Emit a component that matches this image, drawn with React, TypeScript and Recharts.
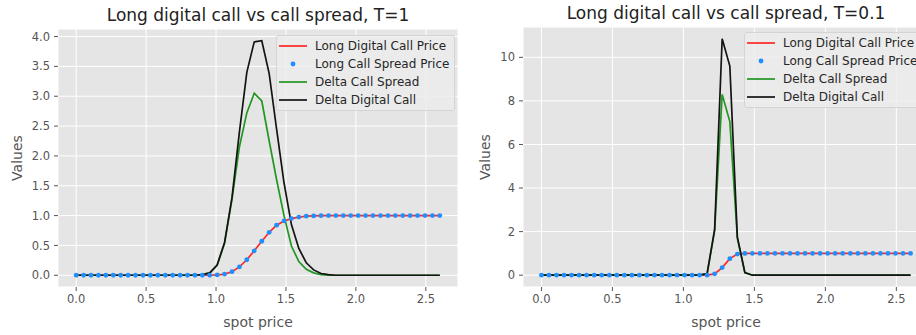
import { LineChart, Line, XAxis, YAxis, CartesianGrid, Legend, Label } from "recharts";

// spot grid shared by both panels
const spot = [
  0.0, 0.053, 0.106, 0.159, 0.212, 0.265, 0.318, 0.371, 0.424, 0.478,
  0.531, 0.584, 0.637, 0.69, 0.743, 0.796, 0.849, 0.902, 0.955, 1.008,
  1.061, 1.114, 1.167, 1.22, 1.273, 1.327, 1.38, 1.433, 1.486, 1.539,
  1.592, 1.645, 1.698, 1.751, 1.804, 1.857, 1.91, 1.963, 2.016, 2.069,
  2.122, 2.176, 2.229, 2.282, 2.335, 2.388, 2.441, 2.494, 2.547, 2.6,
];

// T = 1
const digitalPriceT1 = [
  0, 0, 0, 0, 0, 0, 0, 0, 0, 0,
  0, 0, 0, 0, 0, 0, 0, 0, 0, 0.005,
  0.02, 0.06, 0.14, 0.26, 0.41, 0.57, 0.72, 0.84, 0.91, 0.95,
  0.975, 0.99, 0.995, 0.998, 1, 1, 1, 1, 1, 1,
  1, 1, 1, 1, 1, 1, 1, 1, 1, 1,
];
const spreadPriceT1 = [
  0, 0, 0, 0, 0, 0, 0, 0, 0, 0,
  0, 0, 0, 0, 0, 0, 0, 0, 0, 0.005,
  0.02, 0.06, 0.14, 0.26, 0.41, 0.57, 0.72, 0.84, 0.91, 0.95,
  0.975, 0.99, 0.995, 0.998, 1, 1, 1, 1, 1, 1,
  1, 1, 1, 1, 1, 1, 1, 1, 1, 1,
];
const deltaSpreadT1 = [
  0, 0, 0, 0, 0, 0, 0, 0, 0, 0,
  0, 0, 0, 0, 0, 0, 0, 0.01, 0.04, 0.17,
  0.54, 1.27, 2.15, 2.72, 3.05, 2.92, 2.25, 1.6, 1.0, 0.49,
  0.23, 0.1, 0.04, 0.01, 0, 0, 0, 0, 0, 0,
  0, 0, 0, 0, 0, 0, 0, 0, 0, 0,
];
const deltaDigitalT1 = [
  0, 0, 0, 0, 0, 0, 0, 0, 0, 0,
  0, 0, 0, 0, 0, 0, 0, 0.01, 0.04, 0.17,
  0.55, 1.3, 2.4, 3.4, 3.91, 3.93, 3.38, 2.45, 1.55, 0.85,
  0.45, 0.21, 0.09, 0.03, 0.01, 0, 0, 0, 0, 0,
  0, 0, 0, 0, 0, 0, 0, 0, 0, 0,
];

// T = 0.1
const digitalPriceT01 = [
  0, 0, 0, 0, 0, 0, 0, 0, 0, 0,
  0, 0, 0, 0, 0, 0, 0, 0, 0, 0,
  0, 0, 0, 0.06, 0.35, 0.76, 0.97, 0.998, 1, 1,
  1, 1, 1, 1, 1, 1, 1, 1, 1, 1,
  1, 1, 1, 1, 1, 1, 1, 1, 1, 1,
];
const spreadPriceT01 = [
  0, 0, 0, 0, 0, 0, 0, 0, 0, 0,
  0, 0, 0, 0, 0, 0, 0, 0, 0, 0,
  0, 0, 0, 0.06, 0.35, 0.76, 0.97, 0.998, 1, 1,
  1, 1, 1, 1, 1, 1, 1, 1, 1, 1,
  1, 1, 1, 1, 1, 1, 1, 1, 1, 1,
];
const deltaSpreadT01 = [
  0, 0, 0, 0, 0, 0, 0, 0, 0, 0,
  0, 0, 0, 0, 0, 0, 0, 0, 0, 0,
  0, 0, 0.07, 2.05, 8.3, 7.05, 1.7, 0.12, 0, 0,
  0, 0, 0, 0, 0, 0, 0, 0, 0, 0,
  0, 0, 0, 0, 0, 0, 0, 0, 0, 0,
];
const deltaDigitalT01 = [
  0, 0, 0, 0, 0, 0, 0, 0, 0, 0,
  0, 0, 0, 0, 0, 0, 0, 0, 0, 0,
  0, 0, 0.07, 2.1, 10.85, 9.6, 1.75, 0.12, 0, 0,
  0, 0, 0, 0, 0, 0, 0, 0, 0, 0,
  0, 0, 0, 0, 0, 0, 0, 0, 0, 0,
];

const xTicks = [0, 0.5, 1, 1.5, 2, 2.5];
const yTicksT1 = [0, 0.5, 1, 1.5, 2, 2.5, 3, 3.5, 4];
const yTicksT01 = [0, 2, 4, 6, 8, 10];

const FONT = "'DejaVu Sans', sans-serif";
const LABEL_GRAY = "#555555";

const series = [
  { key: "digitalPrice", name: "Long Digital Call Price", color: "#ff2626", dots: false },
  { key: "spreadPrice", name: "Long Call Spread Price", color: "#1e8fff", dots: true },
  { key: "deltaSpread", name: "Delta Call Spread", color: "#229622", dots: false },
  { key: "deltaDigital", name: "Delta Digital Call", color: "#141414", dots: false },
];

const buildRows = (
  digital: number[],
  spread: number[],
  dSpread: number[],
  dDigital: number[]
) =>
  spot.map((s, i) => ({
    spot: s,
    digitalPrice: digital[i],
    spreadPrice: spread[i],
    deltaSpread: dSpread[i],
    deltaDigital: dDigital[i],
  }));

const LegendBox = () => (
  <div
    style={{
      background: "rgba(236,236,236,0.85)",
      border: "1px solid #d4d4d4",
      borderRadius: 3,
      padding: "1px 0 1px 2px",
      fontFamily: FONT,
      fontSize: 12,
      color: "#262626",
      boxSizing: "border-box",
      whiteSpace: "nowrap",
    }}
  >
    {series.map((s) => (
      <div key={s.key} style={{ display: "flex", alignItems: "center", height: 18 }}>
        <svg width={28} height={18} style={{ marginRight: 8, flexShrink: 0 }}>
          {s.dots ? (
            <circle cx={14} cy={9} r={2.4} fill={s.color} />
          ) : (
            <line x1={0} x2={28} y1={9} y2={9} stroke={s.color} strokeWidth={1.7} />
          )}
        </svg>
        <span>{s.name}</span>
      </div>
    ))}
  </div>
);

interface PanelProps {
  title: string;
  rows: ReturnType<typeof buildRows>;
  left: number;
  top: number;
  yAxisWidth: number;
  rightMargin: number;
  yDomain: [number, number];
  yTicks: number[];
  yFormat: (v: number) => string;
  yLabelX: number;
  titleTop: number;
  legendLeft: number;
  legendTop: number;
}

const Panel = (p: PanelProps) => {
  const width = 470;
  const height = 335;
  const plotWidth = width - p.yAxisWidth - p.rightMargin;
  return (
    <div style={{ position: "absolute", left: p.left, top: 0, width, height }}>
      <div
        style={{
          position: "absolute",
          left: p.yAxisWidth,
          top: p.titleTop,
          width: plotWidth,
          textAlign: "center",
          fontFamily: FONT,
          fontSize: 17,
          lineHeight: "20px",
          color: "#222",
          whiteSpace: "nowrap",
        }}
      >
        {p.title}
      </div>
      <LineChart
        width={width}
        height={height}
        data={p.rows}
        margin={{ top: p.top, right: p.rightMargin, left: 0, bottom: 0 }}
      >
        <CartesianGrid fill="#E5E5E5" fillOpacity={1} stroke="#ffffff" strokeWidth={1} />
        <XAxis
          dataKey="spot"
          type="number"
          domain={[-0.13, 2.73]}
          ticks={xTicks}
          allowDataOverflow
          height={48}
          axisLine={false}
          tickLine={{ stroke: LABEL_GRAY }}
          tickSize={4}
          tickMargin={4}
          tick={{ fill: LABEL_GRAY, fontSize: 11.5, fontFamily: FONT }}
          tickFormatter={(v: number) => v.toFixed(1)}
        >
          <Label
            content={({ viewBox }: any) => (
              <text
                x={viewBox.x + viewBox.width / 2}
                y={viewBox.y + 35}
                textAnchor="middle"
                dominantBaseline="central"
                fill={LABEL_GRAY}
                fontSize={14}
                fontFamily={FONT}
              >
                spot price
              </text>
            )}
          />
        </XAxis>
        <YAxis
          type="number"
          domain={p.yDomain}
          ticks={p.yTicks}
          allowDataOverflow
          width={p.yAxisWidth}
          axisLine={false}
          tickLine={{ stroke: LABEL_GRAY }}
          tickSize={4}
          tickMargin={4}
          tick={{ fill: LABEL_GRAY, fontSize: 11.5, fontFamily: FONT }}
          tickFormatter={p.yFormat}
        >
          <Label
            content={({ viewBox }: any) => {
              const cx = viewBox.x + p.yLabelX;
              const cy = viewBox.y + viewBox.height / 2;
              return (
                <text
                  x={cx}
                  y={cy}
                  transform={`rotate(-90 ${cx} ${cy})`}
                  textAnchor="middle"
                  dominantBaseline="central"
                  fill={LABEL_GRAY}
                  fontSize={14}
                  fontFamily={FONT}
                >
                  Values
                </text>
              );
            }}
          />
        </YAxis>
        <Legend
          layout="vertical"
          align="center"
          verticalAlign="middle"
          content={<LegendBox />}
          wrapperStyle={{ left: p.legendLeft, top: p.legendTop, width: 179 }}
        />
        {series.map((s) =>
          s.dots ? (
            <Line
              key={s.key}
              dataKey={s.key}
              name={s.name}
              type="linear"
              stroke="none"
              dot={{ r: 2.4, fill: s.color, stroke: "none" }}
              activeDot={false}
              isAnimationActive={false}
            />
          ) : (
            <Line
              key={s.key}
              dataKey={s.key}
              name={s.name}
              type="linear"
              stroke={s.color}
              strokeWidth={1.7}
              dot={false}
              activeDot={false}
              isAnimationActive={false}
            />
          )
        )}
      </LineChart>
    </div>
  );
};

export default function App() {
  const rowsT1 = buildRows(digitalPriceT1, spreadPriceT1, deltaSpreadT1, deltaDigitalT1);
  const rowsT01 = buildRows(digitalPriceT01, spreadPriceT01, deltaSpreadT01, deltaDigitalT01);
  return (
    <div
      style={{
        position: "absolute",
        left: 0,
        top: 0,
        width: 916,
        height: 335,
        overflow: "hidden",
        background: "#ffffff",
      }}
    >
      <Panel
        title="Long digital call vs call spread, T=1"
        rows={rowsT1}
        left={0}
        top={29}
        yAxisWidth={58}
        rightMargin={12}
        yDomain={[-0.1965, 4.1265]}
        yTicks={yTicksT1}
        yFormat={(v) => v.toFixed(1)}
        yLabelX={17}
        titleTop={5}
        legendLeft={276}
        legendTop={35}
      />
      <Panel
        title="Long digital call vs call spread, T=0.1"
        rows={rowsT01}
        left={460}
        top={27}
        yAxisWidth={63}
        rightMargin={1}
        yDomain={[-0.5425, 11.3925]}
        yTicks={yTicksT01}
        yFormat={(v) => String(v)}
        yLabelX={25}
        titleTop={3}
        legendLeft={284}
        legendTop={32}
      />
    </div>
  );
}
